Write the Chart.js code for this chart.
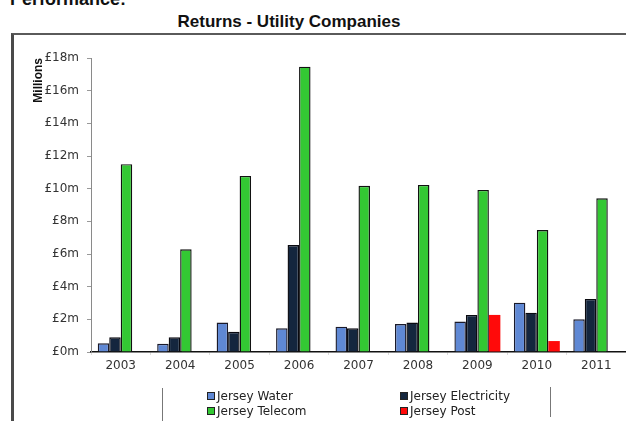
<!DOCTYPE html>
<html>
<head>
<meta charset="utf-8">
<script src="https://cdn.jsdelivr.net/npm/chart.js@4.4.0/dist/chart.umd.min.js"></script>
<style>
  body { margin: 0; background: #fff; overflow: hidden; }
  #page { position: relative; width: 626px; height: 421px; }
  #heading { position: absolute; left: 10px; top: -10px; font: bold 18px/18px "Liberation Sans", Arial, sans-serif; color: #111; }
  #title { position: absolute; left: 0; width: 578px; top: 13px; text-align: center; font: bold 17px/17px "Liberation Sans", Arial, sans-serif; color: #111; }
  #frame { position: absolute; left: 11px; top: 33px; width: 700px; height: 500px; border-left: 3px solid #4a4a4a; border-top: 2px solid #5a5a5a; }
  .sep { position: absolute; width: 1px; background: #777; }
  #wrap { position: absolute; left: 0; top: 0; width: 626px; height: 421px; }
  #legend { position: absolute; left: 0; top: 0; width: 626px; height: 421px; pointer-events: none; }
  .item { position: absolute; font: 12px/14px "DejaVu Sans", sans-serif; color: #222; white-space: nowrap; }
  .box { position: absolute; left: -10px; top: 3px; width: 6px; height: 6px; border: 1px solid #222; }
</style>
</head>
<body>
<div id="page">
  <div id="heading">Performance:</div>
  <div id="title">Returns - Utility Companies</div>
  <div id="frame"></div>
  <div class="sep" style="left:162px; top:388px; height:33px;"></div>
  <div class="sep" style="left:550px; top:387px; height:30px;"></div>
  <div id="wrap"><canvas id="chart" width="626" height="421"></canvas></div>
  <div id="legend"></div>
</div>
<script>
'use strict';

let years = ['2003', '2004', '2005', '2006', '2007', '2008', '2009', '2010', '2011'];

// £ millions
let water = [0.53, 0.5, 1.8, 1.45, 1.55, 1.71, 1.86, 3.02, 2.0];
let electricity = [0.9, 0.9, 1.24, 6.55, 1.45, 1.8, 2.27, 2.41, 3.25];
let telecom = [11.5, 6.29, 10.78, 17.47, 10.18, 10.23, 9.92, 7.47, 9.41];
let post = [null, null, null, null, null, null, 2.27, 0.67, null];

let seriesNames = ['Jersey Water', 'Jersey Electricity', 'Jersey Telecom', 'Jersey Post'];
let seriesColors = ['#5f88d4', '#14263e', '#33c833', '#ff0a0a'];

let yMax = 18;
let yStep = 2;

let font = '"DejaVu Sans", sans-serif';

let ctx = document.getElementById('chart').getContext('2d');
let myChart = new Chart(ctx, {
  type: 'bar',
  data: {
    labels: years,
    datasets: [
      { label: seriesNames[0], data: water, backgroundColor: seriesColors[0], borderColor: '#1a1a2a', borderWidth: 1.4 },
      { label: seriesNames[1], data: electricity, backgroundColor: seriesColors[1], borderColor: '#0a0a10', borderWidth: 1.4 },
      { label: seriesNames[2], data: telecom, backgroundColor: seriesColors[2], borderColor: '#111', borderWidth: 1.4 },
      { label: seriesNames[3], data: post, backgroundColor: seriesColors[3], borderWidth: 0 }
    ]
  },
  options: {
    responsive: false,
    animation: false,
    devicePixelRatio: 1,
    layout: { padding: { top: 58, right: 0, bottom: 0, left: 0 } },
    datasets: {
      bar: { categoryPercentage: 0.773, barPercentage: 1 }
    },
    plugins: {
      legend: { display: false },
      tooltip: { enabled: false },
      title: { display: false }
    },
    scales: {
      x: {
        grid: { drawOnChartArea: false, drawTicks: true, tickLength: 3, color: '#ddd' },
        border: { display: true, color: '#111', width: 1.5 },
        ticks: { color: '#333', font: { family: font, size: 12 }, padding: 4, maxRotation: 0 },
        afterFit: function (scale) { scale.height = 69; }
      },
      y: {
        min: 0,
        max: yMax,
        grid: { drawOnChartArea: false, drawTicks: true, tickLength: 4, color: '#999' },
        border: { display: true, color: '#8a8a8a', width: 1 },
        ticks: {
          stepSize: yStep,
          color: '#333',
          padding: 8,
          font: { family: font, size: 12 },
          callback: function (v) { return '£' + v + 'm'; }
        },
        title: {
          display: true,
          text: 'Millions',
          align: 'end',
          color: '#111',
          font: { family: '"Liberation Sans", Arial, sans-serif', size: 12, weight: 'bold' },
          padding: { top: 31, bottom: 0 }
        },
        afterFit: function (scale) { scale.width = 91; }
      }
    }
  }
});

// legend in two columns, made from the chart's datasets
function makeLegend() {
  let legendEl = document.getElementById('legend');
  let spots = [[217, 389], [410, 389], [217, 404], [410, 404]];
  for (let i = 0; i < myChart.data.datasets.length; i++) {
    let ds = myChart.data.datasets[i];
    let item = document.createElement('div');
    item.className = 'item';
    item.style.left = spots[i][0] + 'px';
    item.style.top = spots[i][1] + 'px';
    let box = document.createElement('span');
    box.className = 'box';
    box.style.background = ds.backgroundColor;
    item.appendChild(box);
    item.appendChild(document.createTextNode(ds.label));
    legendEl.appendChild(item);
  }
}
makeLegend();
</script>
</body>
</html>
